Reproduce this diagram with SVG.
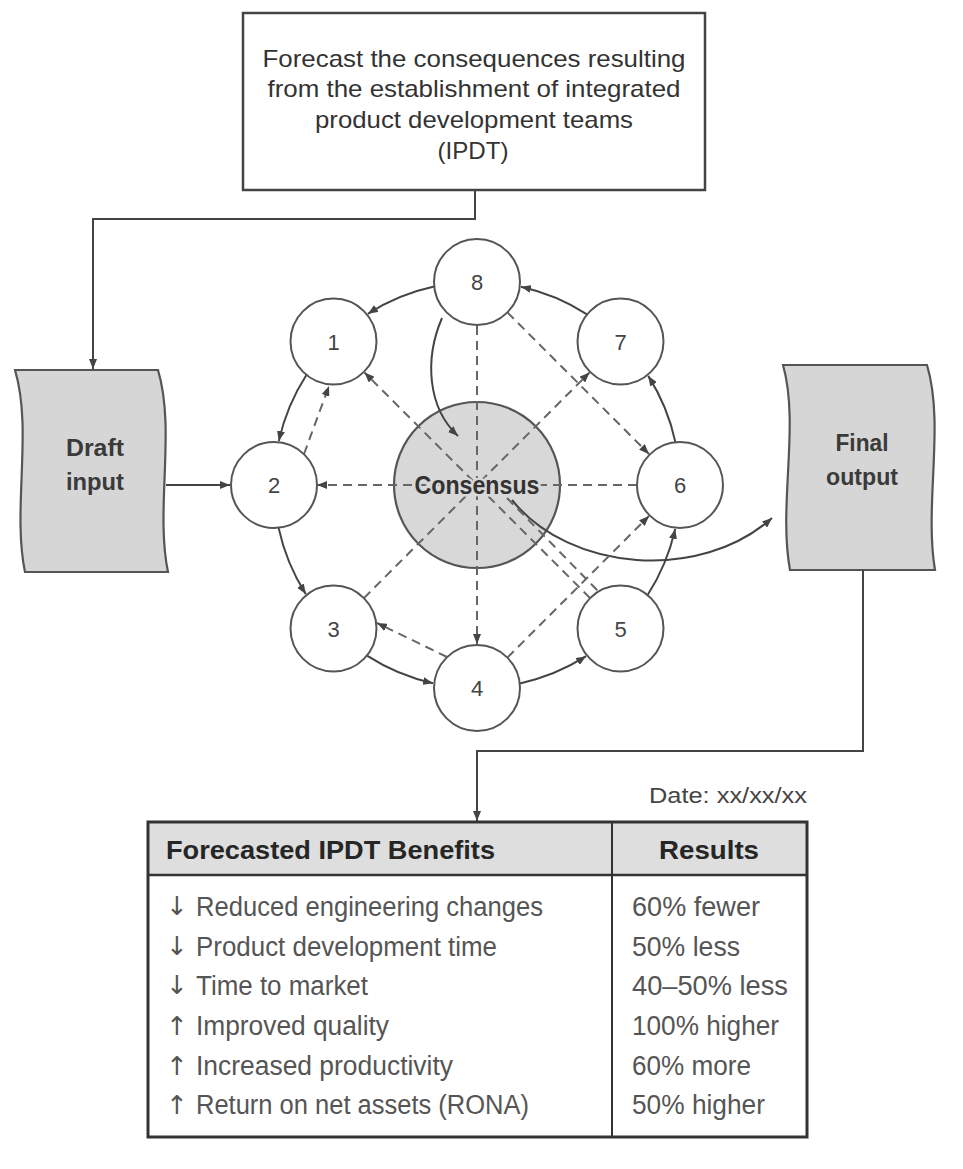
<svg xmlns="http://www.w3.org/2000/svg" width="963" height="1169" viewBox="0 0 963 1169">
<style>
.ln{stroke:#444;stroke-width:2;fill:none}
.dl{stroke:#666;stroke-width:2;fill:none;stroke-dasharray:9 6}
.nd{fill:#fff;stroke:#555;stroke-width:2}
.num{font-family:"Liberation Sans",Arial,sans-serif;font-size:22px;fill:#444;text-anchor:middle}
.doc{fill:#d6d6d6;stroke:#555;stroke-width:2.2}
.dt{font-family:"Liberation Sans",Arial,sans-serif;font-size:24px;font-weight:bold;fill:#3a3a3a;text-anchor:middle}
.top{font-family:"Liberation Sans",Arial,sans-serif;font-size:24px;fill:#333;text-anchor:middle}
.row{font-family:"Liberation Sans",Arial,sans-serif;font-size:27px;fill:#555}
.arr{font-family:"DejaVu Sans",sans-serif;font-size:26px;fill:#555}
.hd{font-family:"Liberation Sans",Arial,sans-serif;font-size:26px;font-weight:bold;fill:#262626}
</style>
<defs>
<marker id="ah" viewBox="0 0 10 8" refX="10" refY="4" markerWidth="10" markerHeight="8" markerUnits="userSpaceOnUse" orient="auto"><path d="M0,0 L10,4 L0,8 z" fill="#444"/></marker>
</defs>
<rect width="963" height="1169" fill="#fff"/>

<g id="top-box">
<rect x="243" y="13" width="462" height="177" fill="#fff" stroke="#444" stroke-width="2.5"/>
<text class="top" x="474" y="67" textLength="423" lengthAdjust="spacingAndGlyphs">Forecast the consequences resulting</text>
<text class="top" x="474" y="97" textLength="413" lengthAdjust="spacingAndGlyphs">from the establishment of integrated</text>
<text class="top" x="474" y="128" textLength="318" lengthAdjust="spacingAndGlyphs">product development teams</text>
<text class="top" x="473" y="159" textLength="71" lengthAdjust="spacingAndGlyphs">(IPDT)</text>
</g>

<g id="draft-input">
<path class="doc" d="M15,370 H158 C176,430 155,510 168,572 H25 C12,510 33,430 15,370 Z"/>
<text class="dt" x="95" y="456" textLength="58" lengthAdjust="spacingAndGlyphs">Draft</text>
<text class="dt" x="95" y="490" textLength="58" lengthAdjust="spacingAndGlyphs">input</text>
</g>

<g id="final-output">
<path class="doc" d="M783,365 H927 C945,425 924,505 935,570 H790 C778,505 800,425 783,365 Z"/>
<text class="dt" x="862" y="451" textLength="53" lengthAdjust="spacingAndGlyphs">Final</text>
<text class="dt" x="862" y="485" textLength="72" lengthAdjust="spacingAndGlyphs">output</text>
</g>

<g id="consensus">
<circle cx="477" cy="485" r="83" fill="#d8d8d8" stroke="#555" stroke-width="2.2"/>
</g>

<g id="connectors">
<path class="ln" d="M475,190 V219 H93 V369" marker-end="url(#ah)"/>
<path class="ln" d="M166,485 H230" marker-end="url(#ah)"/>
<path class="ln" d="M863,570 V751 H477 V821" marker-end="url(#ah)"/>
<path class="ln" d="M434.1,286.6 A203,203 0 0 0 367.9,313.8" marker-end="url(#ah)"/>
<path class="ln" d="M306.4,375 A203,203 0 0 0 278.8,441.1" marker-end="url(#ah)"/>
<path class="ln" d="M278.6,527.9 A203,203 0 0 0 305.8,594.1" marker-end="url(#ah)"/>
<path class="ln" d="M367,655.6 A203,203 0 0 0 433.1,683.2" marker-end="url(#ah)"/>
<path class="ln" d="M519.9,683.4 A203,203 0 0 0 586.1,656.2" marker-end="url(#ah)"/>
<path class="ln" d="M647.6,595 A203,203 0 0 0 675.2,528.9" marker-end="url(#ah)"/>
<path class="ln" d="M675.4,442.1 A203,203 0 0 0 648.2,375.9" marker-end="url(#ah)"/>
<path class="ln" d="M587,314.4 A203,203 0 0 0 520.9,286.8" marker-end="url(#ah)"/>
<path class="ln" d="M442,318 C424,360 428,408 458,436" marker-end="url(#ah)"/>
<path class="ln" d="M512,500 C570,572 700,582 772,518" marker-end="url(#ah)"/>
<path class="dl" d="M637,485 H317" marker-end="url(#ah)"/>
<path class="dl" d="M477,326 V644" marker-end="url(#ah)"/>
<path class="dl" d="M590.1,598.1 L364.5,372.5" marker-end="url(#ah)"/>
<path class="dl" d="M507,498 L598,591"/>
<path class="dl" d="M363.9,598.1 L589.5,372.5" marker-end="url(#ah)"/>
<path class="dl" d="M507.4,312.4 L649,454" marker-end="url(#ah)"/>
<path class="dl" d="M507.4,657.6 L649,516" marker-end="url(#ah)"/>
<path class="dl" d="M304,454 L329,386" marker-end="url(#ah)"/>
<path class="dl" d="M447,657 L377,623" marker-end="url(#ah)"/>
</g>

<g id="consensus-label">
<text x="477" y="494" text-anchor="middle" font-family="'Liberation Sans',Arial,sans-serif" font-size="26" font-weight="bold" fill="#333" stroke="#d8d8d8" stroke-width="5" paint-order="stroke" textLength="125" lengthAdjust="spacingAndGlyphs">Consensus</text>
</g>

<g id="node-8"><circle class="nd" cx="477" cy="282" r="43"/><text class="num" x="477" y="290">8</text></g>
<g id="node-1"><circle class="nd" cx="333.5" cy="341.5" r="43"/><text class="num" x="333.5" y="349.5">1</text></g>
<g id="node-2"><circle class="nd" cx="274" cy="485" r="43"/><text class="num" x="274" y="493">2</text></g>
<g id="node-3"><circle class="nd" cx="333.5" cy="628.5" r="43"/><text class="num" x="333.5" y="636.5">3</text></g>
<g id="node-4"><circle class="nd" cx="477" cy="688" r="43"/><text class="num" x="477" y="696">4</text></g>
<g id="node-5"><circle class="nd" cx="620.5" cy="628.5" r="43"/><text class="num" x="620.5" y="636.5">5</text></g>
<g id="node-6"><circle class="nd" cx="680" cy="485" r="43"/><text class="num" x="680" y="493">6</text></g>
<g id="node-7"><circle class="nd" cx="620.5" cy="341.5" r="43"/><text class="num" x="620.5" y="349.5">7</text></g>

<g id="date">
<text x="807" y="803" text-anchor="end" font-family="'Liberation Sans',Arial,sans-serif" font-size="22" fill="#444" textLength="158" lengthAdjust="spacingAndGlyphs">Date: xx/xx/xx</text>
</g>

<g id="table">
<rect x="148" y="822" width="659" height="53" fill="#dedede"/>
<rect x="148" y="822" width="659" height="315" fill="none" stroke="#333" stroke-width="3"/>
<line x1="148" y1="875" x2="807" y2="875" stroke="#333" stroke-width="2.5"/>
<line x1="612" y1="822" x2="612" y2="1137" stroke="#333" stroke-width="2"/>
<text class="hd" x="166" y="859" textLength="329" lengthAdjust="spacingAndGlyphs">Forecasted IPDT Benefits</text>
<text class="hd" x="709" y="859" text-anchor="middle" textLength="100" lengthAdjust="spacingAndGlyphs">Results</text>

<text class="arr" x="166" y="915">↓</text>
<text class="row" x="196" y="916" textLength="347" lengthAdjust="spacingAndGlyphs">Reduced engineering changes</text>
<text class="row" x="632" y="916" textLength="128" lengthAdjust="spacingAndGlyphs">60% fewer</text>

<text class="arr" x="166" y="955">↓</text>
<text class="row" x="196" y="956" textLength="301" lengthAdjust="spacingAndGlyphs">Product development time</text>
<text class="row" x="632" y="956" textLength="108" lengthAdjust="spacingAndGlyphs">50% less</text>

<text class="arr" x="166" y="994">↓</text>
<text class="row" x="196" y="995" textLength="172" lengthAdjust="spacingAndGlyphs">Time to market</text>
<text class="row" x="632" y="995" textLength="156" lengthAdjust="spacingAndGlyphs">40–50% less</text>

<text class="arr" x="166" y="1035">↑</text>
<text class="row" x="196" y="1035" textLength="193" lengthAdjust="spacingAndGlyphs">Improved quality</text>
<text class="row" x="632" y="1035" textLength="147" lengthAdjust="spacingAndGlyphs">100% higher</text>

<text class="arr" x="166" y="1075">↑</text>
<text class="row" x="196" y="1075" textLength="257" lengthAdjust="spacingAndGlyphs">Increased productivity</text>
<text class="row" x="632" y="1075" textLength="119" lengthAdjust="spacingAndGlyphs">60% more</text>

<text class="arr" x="166" y="1114">↑</text>
<text class="row" x="196" y="1114" textLength="333" lengthAdjust="spacingAndGlyphs">Return on net assets (RONA)</text>
<text class="row" x="632" y="1114" textLength="133" lengthAdjust="spacingAndGlyphs">50% higher</text>
</g>
</svg>
